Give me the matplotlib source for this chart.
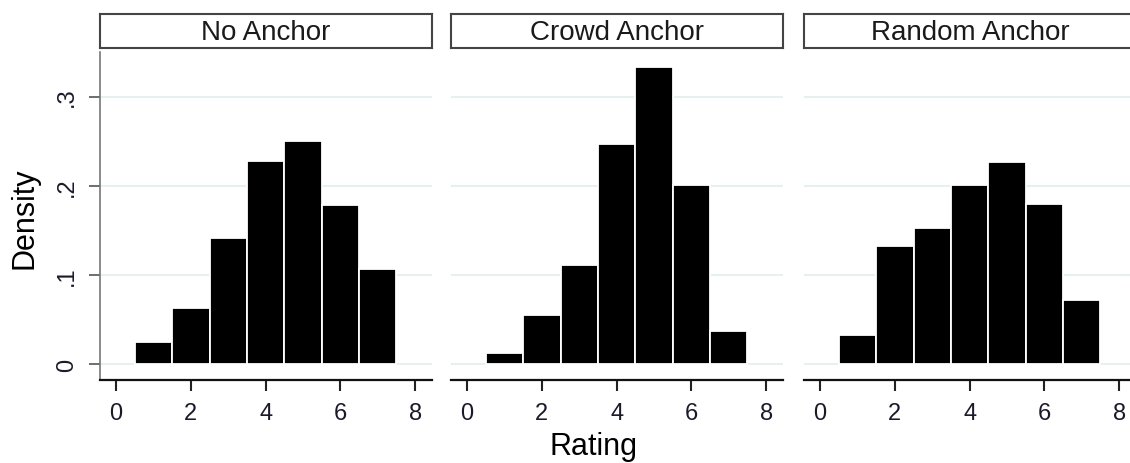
import matplotlib.pyplot as plt

plt.rcParams['font.family'] = ['Liberation Sans', 'DejaVu Sans']

# density of each rating (1..7) per anchor group
ratings = [1, 2, 3, 4, 5, 6, 7]
no_anchor = [0.025, 0.063, 0.141, 0.228, 0.250, 0.178, 0.107]
crowd_anchor = [0.012, 0.055, 0.111, 0.247, 0.333, 0.201, 0.037]
random_anchor = [0.032, 0.132, 0.152, 0.201, 0.227, 0.180, 0.072]

titles = ['No Anchor', 'Crowd Anchor', 'Random Anchor']
series = [no_anchor, crowd_anchor, random_anchor]
x_ticks = [0, 2, 4, 6, 8]
y_ticks = [0, 0.1, 0.2, 0.3]
y_labels = ['0', '.1', '.2', '.3']

fig = plt.figure(figsize=(11.3, 4.64), dpi=100)

lefts = [100, 451, 804]
W, H = 1130, 464
ax_w = 332

for k in range(3):
    left = lefts[k] / W
    ax = fig.add_axes([left, 1 - 381 / H, ax_w / W, (381 - 53) / H])
    ax.bar(ratings, series[k], width=1.0, color='black',
           edgecolor='white', linewidth=1.3, zorder=3)

    ax.set_xlim(-0.43, 8.45)
    ax.set_ylim(-0.018, 0.35)
    for yv in y_ticks:
        ax.axhline(yv, color='#e6f0f1', lw=1.5, zorder=1)

    ax.set_xticks(x_ticks)
    ax.set_xticklabels([str(v) for v in x_ticks])
    ax.tick_params(axis='x', length=8, width=1.5, color='#222222',
                   labelsize=17, pad=8, labelcolor='#1a1a2a')

    for s in ['top', 'right']:
        ax.spines[s].set_visible(False)
    ax.spines['bottom'].set_linewidth(1.6)
    ax.spines['bottom'].set_color('#111111')

    if k == 0:
        ax.set_yticks(y_ticks)
        ax.set_yticklabels(y_labels, rotation=90, va='center')
        ax.tick_params(axis='y', length=8, width=1.2, color='#555555',
                       labelsize=17, pad=8, labelcolor='#1a1a2a')
        ax.spines['left'].set_linewidth(1.2)
        ax.spines['left'].set_color('#777777')
    else:
        ax.spines['left'].set_visible(False)
        ax.set_yticks([])

    # panel strip
    sax = fig.add_axes([left, 1 - 49 / H, ax_w / W, 34 / H])
    sax.set_xticks([])
    sax.set_yticks([])
    for s in sax.spines.values():
        s.set_color('#444444')
        s.set_linewidth(1.5)
    sax.text(0.5, 0.47, titles[k], ha='center', va='center',
             fontsize=20, color='#1a1a1a', transform=sax.transAxes)

fig.text(25 / W, 1 - 218 / H, 'Density', rotation=90, ha='center',
         va='center', fontsize=22)
fig.text(594 / W, 1 - 455 / H, 'Rating', ha='center', va='baseline',
         fontsize=22)

fig.savefig('out.png', dpi=100)
